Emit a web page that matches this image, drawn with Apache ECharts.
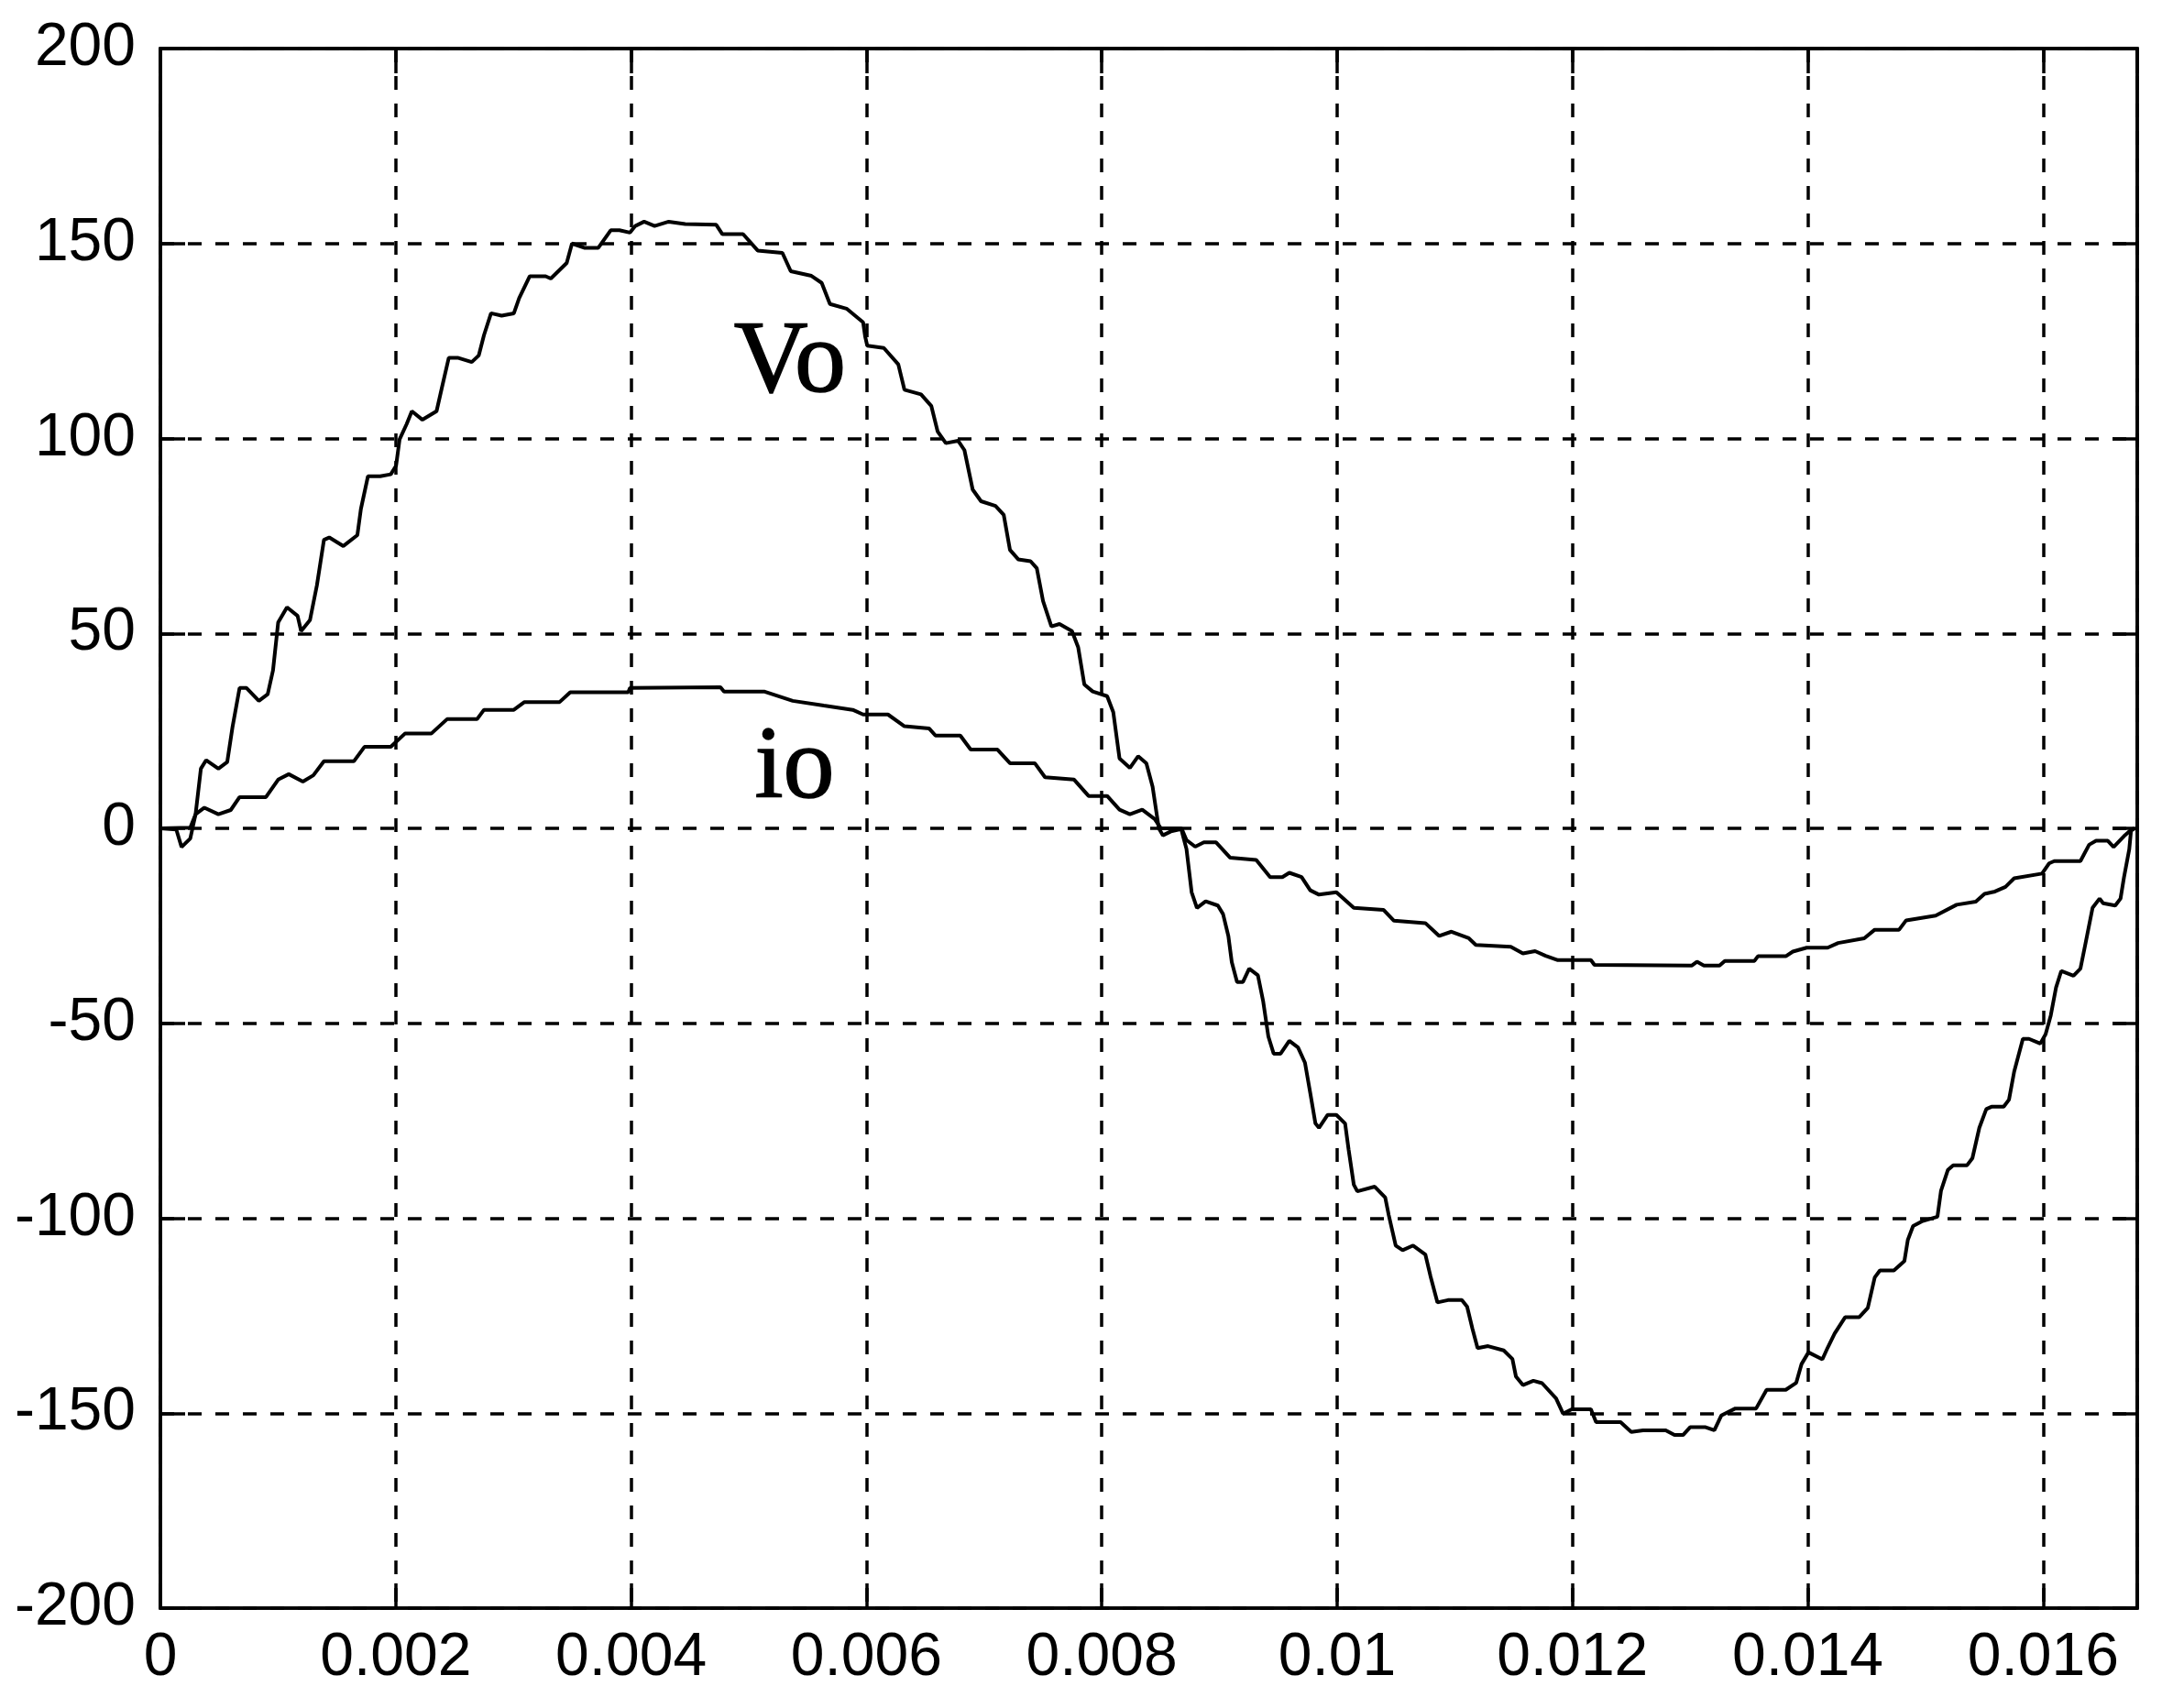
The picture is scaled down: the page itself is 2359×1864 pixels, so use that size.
<!DOCTYPE html>
<html>
<head>
<meta charset="utf-8">
<script src="https://cdn.jsdelivr.net/npm/echarts@6/dist/echarts.min.js"></script>
<style>
html,body{margin:0;padding:0;background:#fff;}
#chart{width:2359px;height:1864px;}
</style>
</head>
<body>
<div id="chart"></div>
<script>
// ---- Data (time in milliseconds) ----
const voTimeMs = [0,0.135,0.18,0.254,0.299,0.344,0.389,0.493,0.568,0.613,0.673,0.732,0.837,0.912,0.957,1.001,1.076,1.166,1.196,1.271,1.33,1.39,1.435,1.555,1.674,1.704,1.764,1.868,1.958,2.003,2.033,2.093,2.137,2.227,2.347,2.392,2.451,2.526,2.646,2.706,2.75,2.81,2.9,3.004,3.049,3.139,3.274,3.318,3.453,3.498,3.602,3.722,3.827,3.901,3.991,4.036,4.111,4.2,4.32,4.46,4.724,4.776,4.952,5.076,5.286,5.357,5.533,5.62,5.69,5.831,5.972,5.989,6.007,6.148,6.271,6.323,6.464,6.552,6.605,6.675,6.78,6.833,6.903,6.974,7.097,7.167,7.22,7.29,7.395,7.448,7.501,7.572,7.641,7.747,7.8,7.852,7.923,8.046,8.098,8.151,8.239,8.309,8.379,8.432,8.485,8.52,8.587,8.676,8.69,8.72,8.764,8.809,8.883,8.987,9.031,9.076,9.105,9.15,9.2,9.253,9.327,9.372,9.416,9.461,9.52,9.594,9.668,9.727,9.772,9.816,9.846,9.92,9.994,10.068,10.098,10.142,10.172,10.32,10.409,10.439,10.498,10.557,10.646,10.75,10.794,10.853,10.942,11.06,11.105,11.15,11.194,11.283,11.416,11.49,11.52,11.579,11.668,11.742,11.861,11.92,11.994,12.157,12.201,12.409,12.5,12.6,12.793,12.867,12.94,13.0,13.132,13.206,13.265,13.384,13.561,13.65,13.813,13.902,13.947,14.006,14.124,14.169,14.228,14.317,14.436,14.51,14.569,14.613,14.732,14.821,14.85,14.895,14.969,15.102,15.132,15.191,15.236,15.354,15.399,15.458,15.517,15.561,15.665,15.71,15.754,15.828,15.88,15.976,16.021,16.065,16.11,16.154,16.258,16.317,16.361,16.42,16.48,16.51,16.613,16.658,16.687,16.732,16.747,16.776];
const voValues = [0,-0.3,-4.8,-2.6,3.6,15.3,17.5,15.3,17.0,26,36,36,32.7,34.4,40.5,52.8,56.7,54.5,50.6,53.4,62.3,74.0,74.6,72.4,75.2,81.9,90.3,90.3,90.8,93,99.8,103.7,107,104.8,107,113,120.7,120.7,119.6,121.3,126.5,132.1,131.5,132.1,136,141.6,141.6,141,145,150,148.9,148.9,153.4,153.4,152.8,154.5,155.6,154.5,155.6,155,154.8,152.4,152.4,148.2,147.6,142.9,141.7,139.9,134.5,133.3,129.8,126.2,123.8,123.2,119,112.5,111.3,108.3,101.8,98.8,99.4,97,86.9,83.9,82.7,80.4,71.4,69,68.5,66.7,58.3,51.8,52.4,50.6,46.4,36.9,35.1,33.9,29.8,17.9,15.5,18.5,16.7,10.7,0,-1.8,-0.8,-0.2,-1.9,-5.3,-16.4,-20.4,-18.7,-19.8,-22,-27.6,-34.3,-39.4,-39.4,-36,-37.7,-44.4,-53.4,-57.8,-57.8,-54.5,-56.2,-60.1,-67.9,-75.7,-76.8,-73.5,-73.5,-75.7,-82.4,-91.4,-93.1,-91.9,-94.7,-99.2,-107,-108.2,-107,-109.3,-114.9,-121.6,-121,-121,-122.7,-128.3,-133.3,-132.8,-133.9,-136.1,-140.6,-142.8,-141.7,-142.3,-146.2,-150.1,-149,-149,-152.3,-152.3,-154.8,-154.4,-154.4,-155.6,-155.6,-153.6,-153.6,-154.4,-150.6,-148.8,-148.8,-144,-144,-142.2,-137.4,-134.4,-136.2,-133.2,-129.6,-125.4,-125.4,-123,-115.2,-113.4,-113.4,-111,-105.6,-102,-100.8,-99.6,-93,-87.6,-86.4,-86.4,-84.6,-76.8,-72,-71.4,-71.4,-69.6,-62.4,-54,-54,-55.2,-52.8,-48,-40.8,-36.6,-37.8,-36,-29.4,-20.4,-18,-19.2,-19.8,-18,-12.6,-5.4,-0.6,0];

const ioTimeMs = [0,0.254,0.299,0.374,0.493,0.598,0.673,0.897,1.001,1.091,1.211,1.3,1.39,1.644,1.734,1.958,2.078,2.302,2.436,2.691,2.75,3.004,3.094,3.393,3.483,3.976,3.991,4.76,4.79,5.13,5.374,5.638,5.884,5.972,6.183,6.323,6.534,6.587,6.798,6.886,7.114,7.22,7.431,7.518,7.765,7.888,8.046,8.151,8.239,8.344,8.45,8.503,8.678,8.72,8.794,8.868,8.972,9.09,9.313,9.431,9.535,9.594,9.698,9.772,9.846,9.994,10.142,10.394,10.483,10.75,10.868,10.972,11.12,11.179,11.476,11.579,11.683,11.772,11.876,12.157,12.187,13.013,13.058,13.117,13.25,13.295,13.547,13.576,13.813,13.873,13.991,14.169,14.258,14.48,14.569,14.776,14.836,15.087,15.265,15.428,15.502,15.591,15.68,15.754,15.991,16.05,16.095,16.317,16.391,16.45,16.55,16.599,16.687,16.747,16.776];
const ioValues = [0,0.2,3.6,5.3,3.6,4.7,8,8,12.5,13.9,12,13.6,17.2,17.2,20.9,20.9,24.3,24.3,28,28,30.4,30.4,32.4,32.4,34.9,34.9,36,36.2,35.1,35.1,32.7,31.5,30.4,29.2,29.2,26.2,25.6,23.8,23.8,20.2,20.2,16.7,16.7,13.1,12.5,8.3,8.3,4.8,3.6,4.8,2.4,0,0,-3,-4.7,-3.6,-3.6,-7.5,-8.1,-12.5,-12.5,-11.4,-12.5,-15.9,-17,-16.4,-20.4,-20.9,-23.7,-24.3,-27.6,-26.5,-28.2,-29.9,-30.4,-32.1,-31.5,-32.7,-33.8,-33.8,-35,-35.2,-34.2,-35.2,-35.2,-34,-34,-32.8,-32.8,-31.6,-30.6,-30.6,-29.4,-28.2,-26,-26,-23.6,-22.4,-19.6,-18.8,-16.8,-16.2,-15,-12.8,-11.6,-9,-8.4,-8.4,-4.2,-3.2,-3.2,-4.8,-2,-0.4,0];

const xTickValues = [0,0.002,0.004,0.006,0.008,0.01,0.012,0.014,0.016];
const xTickLabels = ['0','0.002','0.004','0.006','0.008','0.01','0.012','0.014','0.016'];
const yTickValues = [-200,-150,-100,-50,0,50,100,150,200];
const yTickLabels = ['-200','-150','-100','-50','0','50','100','150','200'];

const annotationTexts = ['Vo','io'];
const annotationT = [0.00535, 0.00539];
const annotationV = [119, 15];

// ---- Build ----
const voData = voTimeMs.map((t,i)=>[t/1000, voValues[i]]);
const ioData = ioTimeMs.map((t,i)=>[t/1000, ioValues[i]]);
const annData = annotationTexts.map((s,i)=>({value:[annotationT[i], annotationV[i]], name:s}));

function lookup(vals, labels, v){
  for(let i=0;i<vals.length;i++){ if(Math.abs(vals[i]-v) < 1e-9) return labels[i]; }
  return '';
}

const FONT = "'Liberation Sans', Arial, Helvetica, sans-serif";
const BLACK = '#000';
const tickStyle = {show:true, inside:true, length:27, lineStyle:{color:BLACK, width:3.5}};

const chart = echarts.init(document.getElementById('chart'), null, {renderer:'canvas'});
chart.setOption({
  animation:false,
  backgroundColor:'#fff',
  grid:{left:175, right:27, top:53, bottom:109, show:true, borderColor:BLACK, borderWidth:3.5, backgroundColor:'#fff'},
  xAxis:[{
    type:'value', min:0, max:0.0168, interval:0.002, position:'bottom',
    axisLine:{show:true, onZero:false, lineStyle:{color:BLACK, width:3.5}},
    axisTick:tickStyle,
    axisLabel:{show:true, color:BLACK, fontFamily:FONT, fontSize:66, margin:22,
      formatter:v=>lookup(xTickValues, xTickLabels, v)},
    splitLine:{show:true, lineStyle:{color:BLACK, width:3.5, type:[15,15]}}
  },{
    type:'value', min:0, max:0.0168, interval:0.002, position:'top',
    axisLine:{show:true, onZero:false, lineStyle:{color:BLACK, width:3.5}},
    axisTick:tickStyle, axisLabel:{show:false}, splitLine:{show:false}
  }],
  yAxis:[{
    type:'value', min:-200, max:200, interval:50, position:'left',
    axisLine:{show:true, onZero:false, lineStyle:{color:BLACK, width:3.5}},
    axisTick:tickStyle,
    axisLabel:{show:true, color:BLACK, fontFamily:FONT, fontSize:66, margin:27,
      formatter:v=>lookup(yTickValues, yTickLabels, v)},
    splitLine:{show:true, lineStyle:{color:BLACK, width:3.5, type:[15,15]}}
  },{
    type:'value', min:-200, max:200, interval:50, position:'right',
    axisLine:{show:true, onZero:false, lineStyle:{color:BLACK, width:3.5}},
    axisTick:tickStyle, axisLabel:{show:false}, splitLine:{show:false}
  }],
  series:[
    {name:'Vo', type:'line', data:voData, showSymbol:false, symbol:'none',
      lineStyle:{color:BLACK, width:4}, z:5},
    {name:'io', type:'line', data:ioData, showSymbol:false, symbol:'none',
      lineStyle:{color:BLACK, width:4}, z:5},
    {name:'labels', type:'scatter', data:annData, symbolSize:0, z:6,
      itemStyle:{opacity:1},
      label:{show:true, position:'inside', formatter:p=>p.name, color:'#000', opacity:1,
        fontFamily:"'Liberation Serif', 'Times New Roman', Times, serif", fontSize:112,
        textBorderWidth:1.5, textBorderColor:'#000',
        align:'center', verticalAlign:'middle'}}
  ]
});
</script>
</body>
</html>
